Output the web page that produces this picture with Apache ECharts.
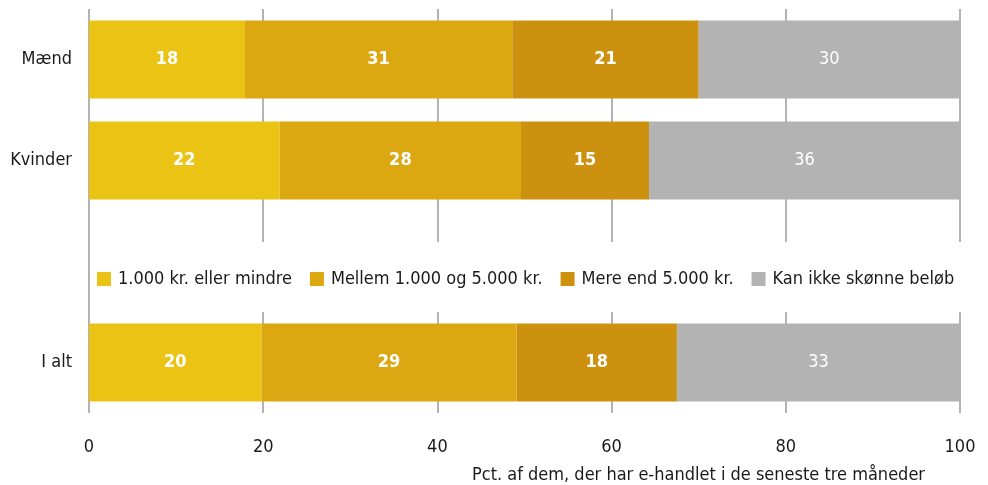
<!DOCTYPE html>
<html>
<head>
<meta charset="utf-8">
<script src="https://cdn.jsdelivr.net/npm/echarts@6/dist/echarts.min.js"></script>
<style>html,body{margin:0;padding:0;background:#fff}#c{width:988px;height:485px}</style>
</head>
<body>
<div id="c"></div>
<script>
var categories = ['Mænd', 'Kvinder', '', 'I alt'];
var seriesNames = ['1.000 kr. eller mindre', 'Mellem 1.000 og 5.000 kr.', 'Mere end 5.000 kr.', 'Kan ikke skønne beløb'];
var s1 = [17.9, 21.9, '-', 19.8];
var s2 = [30.7, 27.7, '-', 29.3];
var s3 = [21.4, 14.7, '-', 18.4];
var s4 = [30.0, 35.7, '-', 32.5];
var xTicks = [0, 20, 40, 60, 80, 100];
var colors = ['#ebc314', '#dca812', '#cd9110', '#b3b3b3'];
var axisTitle = 'Pct. af dem, der har e-handlet i de seneste tre måneder';

var FONT = 'DejaVu Sans Condensed';
var values = [s1, s2, s3, s4];
var chart = echarts.init(document.getElementById('c'));
var series = seriesNames.map(function (n, i) {
  return {
    name: n, type: 'bar', stack: 'total', data: values[i],
    barCategoryGap: '23%',
    itemStyle: { color: colors[i] },
    label: {
      show: true, position: 'inside', color: '#fff',
      fontFamily: FONT, fontSize: 18, fontWeight: i < 3 ? 'bold' : 'normal',
      formatter: function (p) { return Math.round(p.value); }
    }
  };
});
chart.setOption({
  animation: false,
  color: colors,
  grid: { left: 89, right: 28, top: 9, bottom: 72 },
  legend: {
    data: seriesNames, left: 91, top: 242, itemWidth: 14, itemHeight: 14, itemGap: 18,
    icon: 'rect', backgroundColor: '#fff', padding: [28, 8, 24, 6],
    textStyle: { fontFamily: FONT, fontSize: 18, color: '#1a1a1a', padding: [0, 0, 0, 2] }
  },
  xAxis: {
    type: 'value', min: 0, max: 100, interval: 20,
    axisLine: { show: false }, axisTick: { show: false },
    splitLine: { lineStyle: { color: '#b3b3b3', width: 2 } },
    axisLabel: { margin: 25, fontFamily: FONT, fontSize: 18, color: '#1a1a1a',
      formatter: function (v) { return xTicks.indexOf(v) >= 0 ? String(v) : ''; } },
    name: axisTitle, nameLocation: 'end', nameGap: -35,
    nameTextStyle: { fontFamily: FONT, fontSize: 18, color: '#1a1a1a', align: 'right', verticalAlign: 'top', padding: [53, 0, 0, 0] }
  },
  yAxis: {
    type: 'category', data: categories, inverse: true,
    axisLine: { show: false }, axisTick: { show: false },
    axisLabel: { margin: 17, fontFamily: FONT, fontSize: 18, color: '#1a1a1a' }
  },
  series: series
});
</script>
</body>
</html>
